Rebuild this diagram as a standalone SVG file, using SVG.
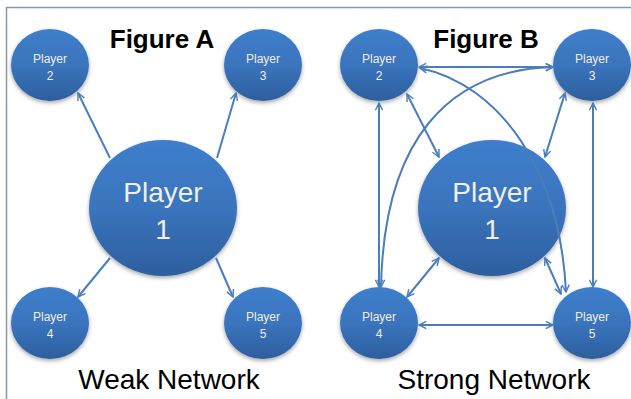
<svg xmlns="http://www.w3.org/2000/svg" width="631" height="399" viewBox="0 0 631 399">
  <defs>
    <linearGradient id="nodeFill" x1="0" y1="0" x2="0" y2="1">
      <stop offset="0" stop-color="#3f7ecb"/>
      <stop offset="0.5" stop-color="#3a74bd"/>
      <stop offset="1" stop-color="#2d5f9e"/>
    </linearGradient>
    <filter id="shadow" x="-20%" y="-20%" width="140%" height="150%">
      <feGaussianBlur in="SourceAlpha" stdDeviation="2"/>
      <feOffset dx="0" dy="2" result="b"/>
      <feComponentTransfer><feFuncA type="linear" slope="0.35"/></feComponentTransfer>
      <feMerge><feMergeNode/><feMergeNode in="SourceGraphic"/></feMerge>
    </filter>
    <marker id="head" viewBox="0 0 10 10" refX="9" refY="5" markerWidth="9" markerHeight="9" markerUnits="userSpaceOnUse" orient="auto-start-reverse">
      <path d="M1,1 L9,5 L1,9" fill="none" stroke="#4a7ebb" stroke-width="1.6" stroke-linejoin="miter"/>
    </marker>
  </defs>
  <style>
    .node { fill: url(#nodeFill); filter: url(#shadow); }
    .lbl { font-family: "Liberation Sans", Arial, sans-serif; fill: #f1eee3; text-anchor: middle; }
    .sm { font-size: 12px; }
    .lg { font-size: 28px; }
    .title { font-family: "Liberation Sans", Arial, sans-serif; font-weight: bold; font-size: 26px; fill: #000; text-anchor: middle; }
    .caption { font-family: "Liberation Sans", Arial, sans-serif; font-size: 28px; fill: #000; text-anchor: middle; }
    .edge { fill: none; stroke: #4a7ebb; stroke-width: 2; }
    .one { marker-end: url(#head); }
    .two { marker-start: url(#head); marker-end: url(#head); }
    .frame { stroke: #8d98a5; stroke-width: 1.5; fill: none; }
  </style>

  <rect width="631" height="399" fill="#ffffff"/>
  <path class="frame" d="M6.5,399 L6.5,7.5 L631,7.5"/>

  <text class="title" x="162" y="48">Figure A</text>
  <text class="title" x="486" y="48">Figure B</text>

  <!-- Weak network nodes -->
  <g id="a-player1"><ellipse class="node" cx="163" cy="208" rx="74" ry="68"/><text class="lbl lg" x="163" y="202">Player</text><text class="lbl lg" x="163" y="239">1</text></g>
  <g id="a-player2"><ellipse class="node" cx="50" cy="65" rx="39" ry="36"/><text class="lbl sm" x="50" y="63">Player</text><text class="lbl sm" x="50" y="80">2</text></g>
  <g id="a-player3"><ellipse class="node" cx="263" cy="65" rx="39" ry="36"/><text class="lbl sm" x="263" y="63">Player</text><text class="lbl sm" x="263" y="80">3</text></g>
  <g id="a-player4"><ellipse class="node" cx="50" cy="323" rx="39" ry="36"/><text class="lbl sm" x="50" y="321">Player</text><text class="lbl sm" x="50" y="338">4</text></g>
  <g id="a-player5"><ellipse class="node" cx="263" cy="323" rx="39" ry="36"/><text class="lbl sm" x="263" y="321">Player</text><text class="lbl sm" x="263" y="338">5</text></g>

  <!-- Strong network nodes -->
  <g id="b-player1"><ellipse class="node" cx="492" cy="208" rx="74" ry="68"/><text class="lbl lg" x="492" y="202">Player</text><text class="lbl lg" x="492" y="239">1</text></g>
  <g id="b-player2"><ellipse class="node" cx="379" cy="65" rx="39" ry="36"/><text class="lbl sm" x="379" y="63">Player</text><text class="lbl sm" x="379" y="80">2</text></g>
  <g id="b-player3"><ellipse class="node" cx="592" cy="65" rx="39" ry="36"/><text class="lbl sm" x="592" y="63">Player</text><text class="lbl sm" x="592" y="80">3</text></g>
  <g id="b-player4"><ellipse class="node" cx="379" cy="323" rx="39" ry="36"/><text class="lbl sm" x="379" y="321">Player</text><text class="lbl sm" x="379" y="338">4</text></g>
  <g id="b-player5"><ellipse class="node" cx="592" cy="323" rx="39" ry="36"/><text class="lbl sm" x="592" y="321">Player</text><text class="lbl sm" x="592" y="338">5</text></g>

  <g id="connectors">
    <!-- weak: hub to each player -->
    <line class="edge one" x1="110" y1="158" x2="78" y2="93"/>
    <line class="edge one" x1="217" y1="158" x2="236" y2="93"/>
    <line class="edge one" x1="110" y1="258" x2="78" y2="297"/>
    <line class="edge one" x1="216" y1="258" x2="233" y2="297"/>
    <!-- strong: every pair linked both ways -->
    <line class="edge two" x1="419" y1="67" x2="553" y2="67"/>
    <line class="edge two" x1="419" y1="325" x2="553" y2="325"/>
    <line class="edge two" x1="379" y1="103" x2="379" y2="287"/>
    <line class="edge two" x1="593" y1="103" x2="593" y2="287"/>
    <line class="edge two" x1="407" y1="94" x2="439" y2="157"/>
    <line class="edge two" x1="565" y1="93" x2="545" y2="157"/>
    <line class="edge two" x1="407" y1="297" x2="439" y2="258"/>
    <line class="edge two" x1="545" y1="258" x2="561" y2="294"/>
    <path class="edge two" d="M420,68 C500,85 560,170 566,292"/>
    <path class="edge two" d="M553,67 C448,70 384,140 381,287"/>
  </g>

  <text class="caption" x="169" y="389">Weak Network</text>
  <text class="caption" x="494" y="389">Strong Network</text>
</svg>
